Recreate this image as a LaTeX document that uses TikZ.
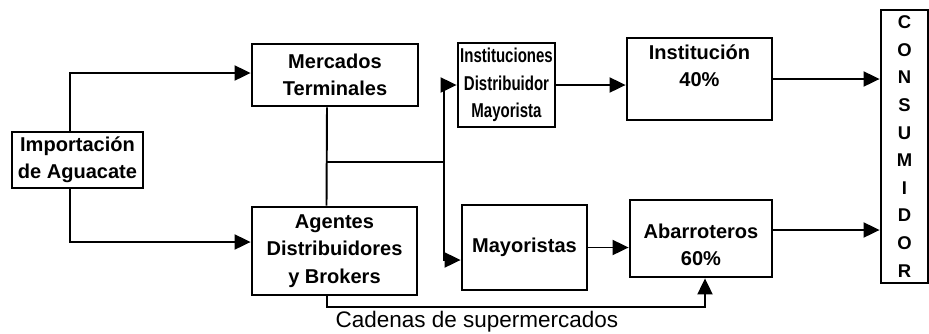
\documentclass[tikz,border=0pt]{standalone}
\usepackage{fontspec}
\setmainfont{Liberation Sans}
\newfontfamily\angosta[FakeStretch=0.75]{Liberation Sans}
\usetikzlibrary{arrows.meta,positioning,calc}

\begin{document}
\begin{tikzpicture}[
    caja/.style={draw, line width=1.6pt, inner sep=0pt, align=center,
                 font=\fontsize{11.4}{15.5}\selectfont\bfseries},
    linea/.style={line width=1.1pt},
    flecha/.style={line width=1.1pt, -{Triangle[length=0.32cm,width=0.3cm]}}
  ]
  \useasboundingbox (0,0) rectangle (18.58,-6.66);
  % cajas
  \node[caja, minimum width=2.62cm, minimum height=1.12cm] (imp) at (1.55,-3.2) {Importación\\de Aguacate};
  \node[caja, minimum width=3.32cm, minimum height=1.24cm] (merc) at (6.70,-1.50) {Mercados\\Terminales};
  \node[caja, minimum width=3.30cm, minimum height=1.76cm] (agen) at (6.69,-5.02) {Agentes\\Distribuidores\\y Brokers};
  \node[caja, minimum width=1.94cm, minimum height=1.68cm,
        font=\fontsize{11.4}{15.5}\angosta\bfseries] (inst) at (10.13,-1.70) {Instituciones\\Distribuidor\\Mayorista};
  \node[caja, minimum width=2.50cm, minimum height=1.70cm] (may) at (10.49,-4.95) {Mayoristas};
  \node[caja, minimum width=2.90cm, minimum height=1.64cm] (ins40) at (13.99,-1.58) {Institución\\40\%\\\mbox{}};
  \node[caja, minimum width=2.84cm, minimum height=1.54cm] (abar) at (14.02,-4.77) {\mbox{}\\Abarroteros\\60\%};
  \node[caja, minimum width=0.94cm, minimum height=5.46cm,
        font=\fontsize{10.5}{15.7}\selectfont\bfseries] (cons) at (18.09,-2.93) {C\\O\\N\\S\\U\\M\\I\\D\\O\\R};
  \node[font=\fontsize{12.8}{14}\selectfont, inner sep=0pt] (cad) at (9.54,-6.44) {Cadenas de supermercados};

  % conexiones
  \coordinate (rama) at (8.88,-3.24);
  \draw[flecha] ([xshift=-0.15cm]imp.north) |- ([yshift=0.04cm]merc.west);
  \draw[flecha] ([xshift=-0.15cm]imp.south) |- ([yshift=0.18cm]agen.west);
  \draw[linea] ([xshift=-0.16cm]merc.south) -- ([xshift=-0.16cm]agen.north);
  \draw[linea] ([xshift=-0.16cm]merc.south |- rama) -- (rama);
  \draw[flecha] (rama) |- (inst.west);
  \draw[flecha] (rama) |- ([yshift=-0.25cm]may.west);
  \draw[flecha] (inst.east) -- (inst.east -| ins40.west);
  \draw[flecha] (may.east) -- (may.east -| abar.west);
  \draw[flecha] (ins40.east) -- (ins40.east -| cons.west);
  \draw[flecha] ([yshift=0.17cm]abar.east) -- ([yshift=0.17cm]abar.east -| cons.west);
  \draw[flecha] ([xshift=-0.15cm]agen.south) -- ++(0,-0.22) -| ([xshift=0.08cm]abar.south);
\end{tikzpicture}
\end{document}
